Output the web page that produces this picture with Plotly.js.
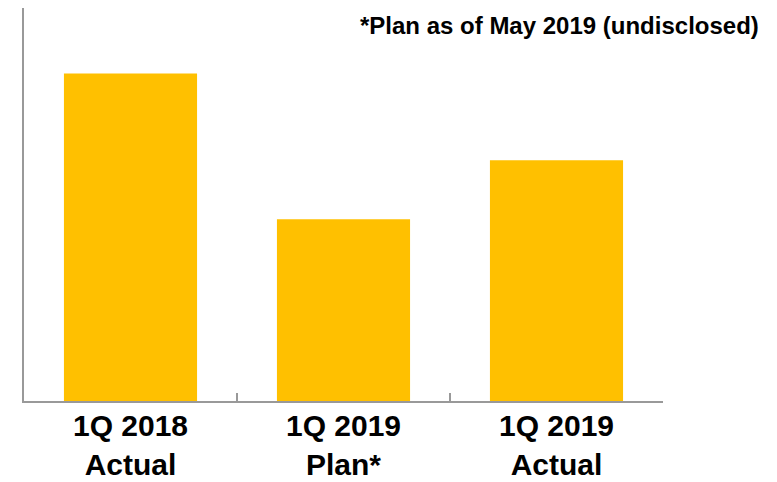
<!DOCTYPE html>
<html>
<head>
<meta charset="utf-8">
<script src="https://cdn.plot.ly/plotly-3.0.1.min.js"></script>
<style>html,body{margin:0;padding:0;background:#fff;}#chart{width:777px;height:482px;}</style>
</head>
<body>
<div id="chart"></div>
<script>
const categories = ["1Q 2018<br>Actual", "1Q 2019<br>Plan*", "1Q 2019<br>Actual"];
const values = [100, 55.5, 73.5];
const note = "*Plan as of May 2019 (undisclosed)";

const data = [{
  type: "bar",
  x: categories,
  y: values,
  marker: {color: "#FFC000"},
  hoverinfo: "skip"
}];

const layout = {
  width: 777,
  height: 482,
  margin: {l: 24, r: 114, t: 8, b: 81, pad: 0},
  paper_bgcolor: "#ffffff",
  plot_bgcolor: "#ffffff",
  bargap: 0.375,
  showlegend: false,
  font: {family: "Liberation Sans, Arial, sans-serif", color: "#000"},
  xaxis: {
    type: "category",
    showline: true,
    linecolor: "#999999",
    linewidth: 2,
    ticks: "inside",
    tickson: "boundaries",
    ticklen: 8,
    tickwidth: 2,
    tickcolor: "#999999",
    ticklabelstandoff: -3,
    showgrid: false,
    zeroline: false,
    tickfont: {family: "Liberation Sans, Arial, sans-serif", size: 30, color: "#000", weight: "bold"},
    fixedrange: true
  },
  yaxis: {
    range: [0, 120],
    showline: true,
    linecolor: "#999999",
    linewidth: 2,
    showticklabels: false,
    ticks: "",
    showgrid: false,
    zeroline: false,
    fixedrange: true
  },
  annotations: [{
    text: "<b>" + note + "</b>",
    xref: "paper", yref: "paper",
    x: 1.154, y: 0.955,
    xanchor: "right", yanchor: "middle",
    showarrow: false,
    font: {family: "Liberation Sans, Arial, sans-serif", size: 24, color: "#000"}
  }]
};

Plotly.newPlot("chart", data, layout, {displayModeBar: false, staticPlot: true});
</script>
</body>
</html>
